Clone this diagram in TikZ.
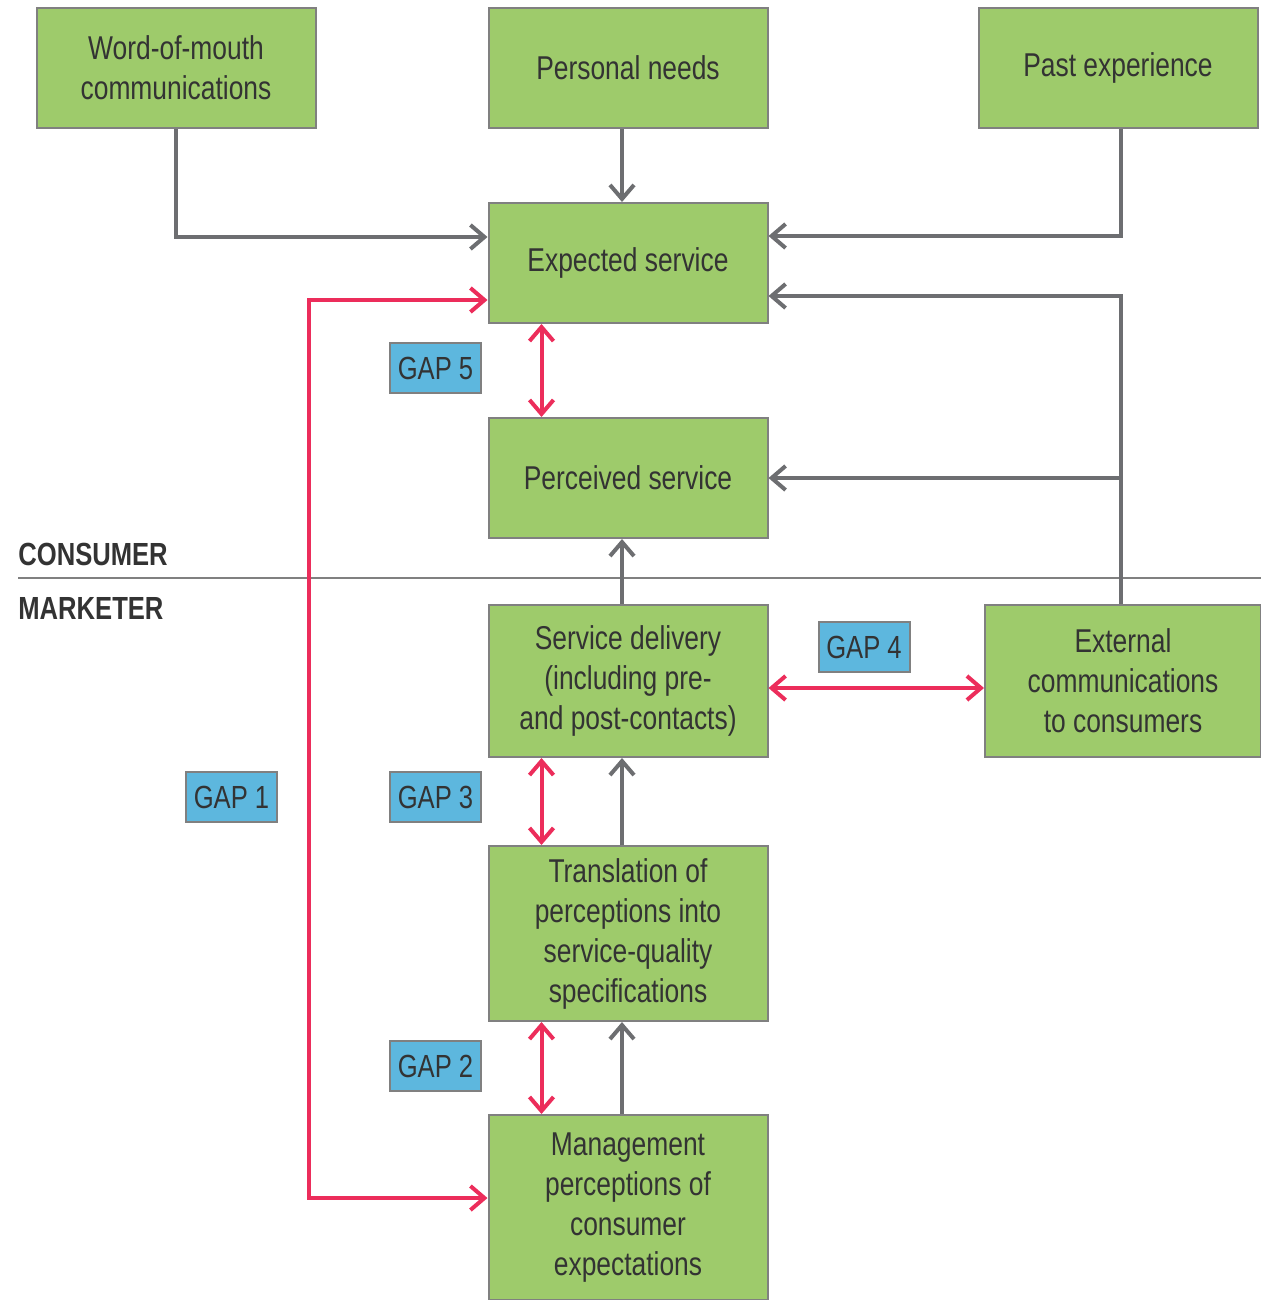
\documentclass[tikz,border=0pt]{standalone}
\usepackage{fontspec}
\setmainfont{Liberation Sans}[FakeStretch=0.8]
\usetikzlibrary{arrows.meta,calc}

\definecolor{boxgreen}{HTML}{9ECB6B}
\definecolor{boxline}{HTML}{808080}
\definecolor{gapblue}{HTML}{5DB7DE}
\definecolor{gapred}{HTML}{EC2D5B}
\definecolor{flowgray}{HTML}{6D6E71}
\definecolor{txt}{HTML}{333333}

\tikzset{
  box/.style={draw=boxline, fill=boxgreen, line width=1pt, text=txt, align=center,
    minimum width=139.5pt, minimum height=60pt, inner sep=0pt,
    font=\fontsize{16.5}{20}\selectfont},
  gapbox/.style={draw=boxline, fill=gapblue, line width=1pt, text=txt,
    minimum width=45.5pt, minimum height=25pt, inner sep=0pt,
    font=\fontsize{16}{20}\selectfont},
  flow/.style={draw=flowgray, line width=2pt, -{Straight Barb[length=7pt, width=12pt]}},
  gaparrow/.style={draw=gapred, line width=2pt,
    {Straight Barb[length=7pt, width=12pt]}-{Straight Barb[length=7pt, width=12pt]}},
  side/.style={text=txt, font=\fontsize{16}{20}\selectfont\bfseries, inner sep=0pt}
}

\begin{document}
\begin{tikzpicture}[x=0.5pt, y=-0.5pt]
  \clip (0,0) rectangle (1261,1300);
  \useasboundingbox (0,0) rectangle (1261,1300);

  % consumer side
  \node[box] (wom)   at (176,68)  {Word-of-mouth\\communications};
  \node[box] (needs) at (628,68)  {Personal needs};
  \node[box] (past)  at (1118,68) {Past experience};
  \node[box] (exp)   at (628,263) {Expected service};
  \node[box] (perc)  at (628,478) {Perceived service};

  % divider
  \draw[boxline, line width=1pt] (18,578) -- (1261,578);
  \node[side, anchor=base west] (cons) at (18,565) {CONSUMER};
  \node[side, anchor=base west] (mark) at (18,619) {MARKETER};

  % marketer side
  \node[box, minimum height=76pt] (deliv) at (628,681)
    {Service delivery\\(including pre-\\and post-contacts)};
  \node[box, minimum width=138pt, minimum height=76pt] (extc) at (1123,681)
    {External\\communications\\to consumers};
  \node[box, minimum height=87.5pt] (trans) at (628,933.5)
    {Translation of\\perceptions into\\service-quality\\specifications};
  \node[box, minimum height=92.5pt] (mgmt) at (628,1207.5)
    {Management\\perceptions of\\consumer\\expectations};

  % gaps
  \node[gapbox] (gap5) at (435.5,368) {GAP 5};
  \node[gapbox] (gap4) at (864,647)   {GAP 4};
  \node[gapbox] (gap1) at (231.5,797) {GAP 1};
  \node[gapbox] (gap3) at (435.5,797) {GAP 3};
  \node[gapbox] (gap2) at (435.5,1066) {GAP 2};

  % gray flows
  \draw[flow] (wom.south) |- ($(exp.west)+(0,-26)$);
  \draw[flow] ($(needs.south)+(-6,0)$) -- ($(exp.north)+(-6,0)$);
  \draw[flow] ($(past.south)+(3,0)$) |- ($(exp.east)+(0,-27)$);
  \coordinate (extout) at ($(extc.north)+(-2,0)$);
  \draw[flow] (extout) |- ($(exp.east)+(0,33)$);
  \coordinate (br) at (extout |- perc.east);
  \draw[flow] (br) -- (perc.east);
  \draw[flow] ($(deliv.north)+(-6,0)$) -- ($(perc.south)+(-6,0)$);
  \draw[flow] ($(trans.north)+(-6,0)$) -- ($(deliv.south)+(-6,0)$);
  \draw[flow] ($(mgmt.north)+(-6,0)$) -- ($(trans.south)+(-6,0)$);

  % gap arrows
  \draw[gaparrow] ($(exp.south west)+(54,0)$) -- ($(perc.north west)+(54,0)$);
  \draw[gaparrow] ($(deliv.east)+(0,7)$) -- ($(extc.west)+(0,7)$);
  \draw[gaparrow] ($(deliv.south west)+(54,0)$) -- ($(trans.north west)+(54,0)$);
  \draw[gaparrow] ($(trans.south west)+(54,0)$) -- ($(mgmt.north west)+(54,0)$);
  \draw[gaparrow] ($(exp.west)+(0,37)$) -- ++(-179,0) |- ($(mgmt.west)+(0,-9.5)$);

\end{tikzpicture}
\end{document}
